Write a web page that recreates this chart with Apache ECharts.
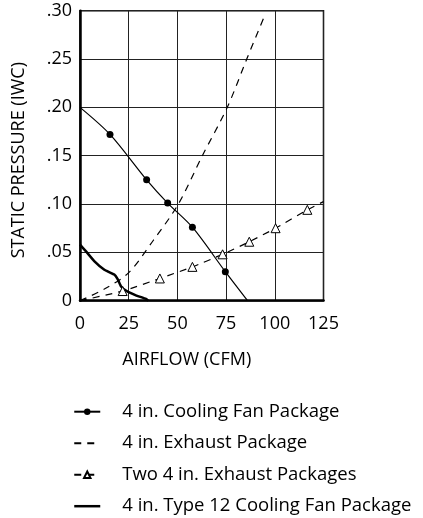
<!DOCTYPE html>
<html>
<head>
<meta charset="utf-8">
<script src="https://cdn.jsdelivr.net/npm/echarts@6/dist/echarts.min.js"></script>
<style>
  html, body { margin: 0; padding: 0; background: #fff; }
  #main { width: 423px; height: 518px; }
</style>
</head>
<body>
<div id="main"></div>
<script>
// values, [airflow CFM, static pressure IWC]
var xTicks = [0, 25, 50, 75, 100, 125];
var yTicks = [0, 0.05, 0.10, 0.15, 0.20, 0.25, 0.30];

var seriesNames = [
	'4 in. Cooling Fan Package',
	'4 in. Exhaust Package',
	'Two 4 in. Exhaust Packages',
	'4 in. Type 12 Cooling Fan Package'
];

var coolingFan = [[0, 0.200], [15.4, 0.172], [34.2, 0.125], [45, 0.101], [57.7, 0.076], [74.6, 0.030], [86, 0]];
var exhaust = [[0, 0], [12.5, 0.012], [25, 0.029], [37.5, 0.062], [50.5, 0.100], [62.8, 0.150], [75.6, 0.200], [85.6, 0.250], [94.8, 0.295]];
var twoExhaust = [[0, 0], [21.9, 0.010], [41, 0.023], [57.7, 0.035], [73.2, 0.048], [86.9, 0.061], [100.4, 0.075], [116.7, 0.094], [125, 0.1025]];
var type12 = [[0, 0.058], [3.1, 0.051], [7.3, 0.041], [12.5, 0.032], [17.6, 0.027], [19.4, 0.022], [21, 0.015], [23.6, 0.0104], [28.7, 0.0056], [33.9, 0.0018], [35, 0]];

// first and last points carry no marker
function markInner(arr) {
	var out = [];
	for (var i = 0; i < arr.length; i++) {
		if (i == 0 || i == arr.length - 1) {
			out.push({ value: arr[i], symbol: 'none' });
		} else {
			out.push({ value: arr[i] });
		}
	}
	return out;
}

var font = '"Open Sans", "Noto Sans", sans-serif';
var chart = echarts.init(document.getElementById('main'));

var hideSymbol = { opacity: 0, color: 'transparent', borderWidth: 0 };

var option = {
	animation: false,
	textStyle: { fontFamily: font, color: '#000' },
	grid: {
		left: 80, right: 99.5, top: 10.7, bottom: 217.3,
		show: true, borderColor: '#000', borderWidth: 1.5
	},
	xAxis: {
		type: 'value',
		min: xTicks[0], max: xTicks[xTicks.length - 1], interval: 25,
		name: 'AIRFLOW (CFM)',
		nameLocation: 'middle',
		nameGap: 50,
		nameTextStyle: { fontFamily: font, fontSize: 18, color: '#000', padding: [0, 30, 0, 0] },
		axisLine: { lineStyle: { color: '#000', width: 2.5 } },
		axisTick: { show: false },
		axisLabel: { margin: 14, fontSize: 18, color: '#000', fontFamily: font },
		splitLine: { lineStyle: { color: '#222', width: 1 } }
	},
	yAxis: {
		type: 'value',
		min: yTicks[0], max: yTicks[yTicks.length - 1], interval: 0.05,
		name: 'STATIC PRESSURE (IWC)',
		nameLocation: 'middle',
		nameGap: 52,
		nameTextStyle: { fontFamily: font, fontSize: 18, color: '#000', padding: [0, 9, 0, 0] },
		axisLine: { lineStyle: { color: '#000', width: 2.5 } },
		axisTick: { show: false },
		axisLabel: {
			margin: 8, fontSize: 18, color: '#000', fontFamily: font,
			formatter: function(v) {
				if (v == 0) return '0';
				return '.' + (Math.round(v * 100) + '').padStart(2, '0');
			}
		},
		splitLine: { lineStyle: { color: '#222', width: 1 } }
	},
	legend: {
		orient: 'vertical',
		left: 73,
		top: 401.7,
		padding: 0,
		itemWidth: 26,
		itemHeight: 8,
		itemGap: 11.5,
		textStyle: { fontFamily: font, fontSize: 18.5, lineHeight: 20, color: '#000', padding: [0, 0, 0, 17] },
		data: [
			{ name: seriesNames[0] },
			{ name: seriesNames[1], itemStyle: hideSymbol },
			{ name: seriesNames[2] },
			{ name: seriesNames[3], itemStyle: hideSymbol, lineStyle: { width: 2.5 } }
		]
	},
	series: [{
		name: seriesNames[0],
		type: 'line',
		smooth: 0.3,
		data: markInner(coolingFan),
		symbol: 'circle',
		symbolSize: 7,
		itemStyle: { color: '#000' },
		lineStyle: { color: '#000', width: 1.2 }
	}, {
		name: seriesNames[1],
		type: 'line',
		smooth: 0.3,
		data: exhaust,
		showSymbol: false,
		symbol: 'none',
		itemStyle: { color: '#000' },
		lineStyle: { color: '#000', width: 1.2, type: [7, 6] }
	}, {
		name: seriesNames[2],
		type: 'line',
		smooth: 0.2,
		data: markInner(twoExhaust),
		symbol: 'triangle',
		symbolSize: 9,
		itemStyle: { color: '#fff', borderColor: '#000', borderWidth: 1 },
		lineStyle: { color: '#000', width: 1.2, type: [7, 6] }
	}, {
		name: seriesNames[3],
		type: 'line',
		smooth: 0.1,
		data: type12,
		showSymbol: false,
		symbol: 'none',
		itemStyle: { color: '#000' },
		lineStyle: { color: '#000', width: 2.5 }
	}]
};

chart.setOption(option);
</script>
</body>
</html>
